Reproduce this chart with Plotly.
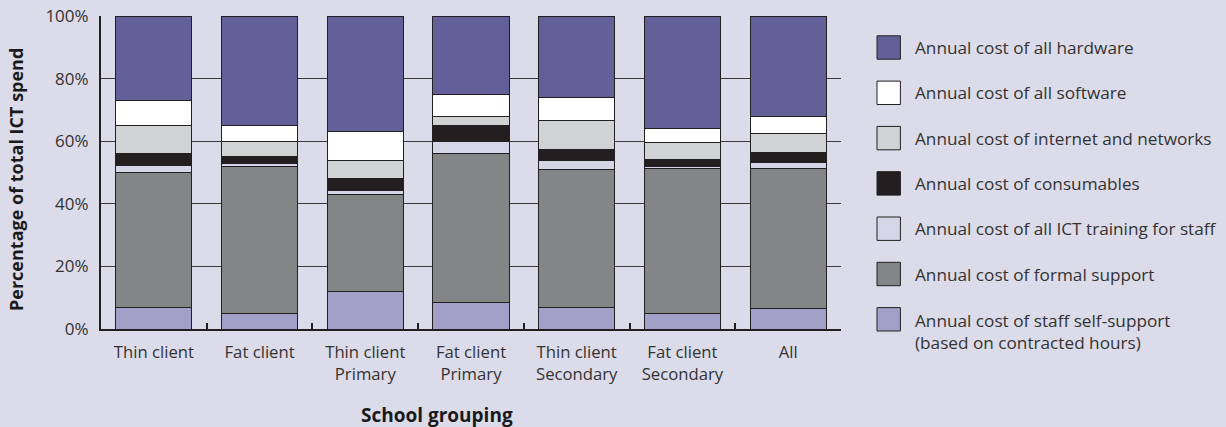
import plotly.graph_objects as go

categories = ["Thin client", "Fat client", "Thin client<br>Primary", "Fat client<br>Primary",
              "Thin client<br>Secondary", "Fat client<br>Secondary", "All"]

self_support = [6.9, 4.9, 11.9, 8.4, 6.9, 4.9, 6.4]
formal_support = [43.0, 47.0, 31.0, 47.6, 44.0, 46.3, 45.0]
ict_training = [2.3, 1.0, 1.3, 3.8, 2.9, 0.8, 1.9]
consumables = [3.8, 2.2, 3.8, 5.2, 3.7, 2.0, 3.2]
internet_networks = [8.9, 4.8, 5.9, 2.9, 9.0, 5.5, 5.9]
software = [8.1, 5.1, 9.1, 7.0, 7.4, 4.5, 5.5]
hardware = [27.0, 35.0, 37.0, 25.1, 26.1, 36.0, 32.1]

y_ticks = [0, 20, 40, 60, 80, 100]
y_tick_labels = ["0%", "20%", "40%", "60%", "80%", "100%"]

x_title = "School grouping"
y_title = "Percentage of total ICT spend"

series_names = [
    "Annual cost of staff self-support<br>(based on contracted hours)",
    "Annual cost of formal support",
    "Annual cost of all ICT training for staff",
    "Annual cost of consumables",
    "Annual cost of internet and networks",
    "Annual cost of all software",
    "Annual cost of all hardware",
]
series_values = [self_support, formal_support, ict_training, consumables,
                 internet_networks, software, hardware]
series_colors = ["#a29fc8", "#848586", "#d6d5e8", "#231f20", "#d1d2d4", "#ffffff", "#635f98"]

BG = "#dcdbe9"
TXT = "#333333"
LINE = "#231f20"
FONT = "Open Sans"
FS = 16.7

W, H = 1226, 427
L, R, T, B = 101, 385, 16, 98
PW, PH = W - L - R, H - T - B

fig = go.Figure()
for name, vals, col in zip(series_names, series_values, series_colors):
    fig.add_trace(go.Bar(x=categories, y=vals, name=name, marker_color=col,
                         marker_line_color=LINE, marker_line_width=1,
                         showlegend=False))

def px2x(px):
    return (px - L) / PW
def py2y(py):
    return (H - B - py) / PH

# manual legend (top entry = last stacked series)
sq = 23.4
sq_x0 = 877
first_cy = 47.5
step = 45.3
for i, (name, col) in enumerate(zip(series_names[::-1], series_colors[::-1])):
    cy = first_cy + i * step
    fig.add_shape(type="rect", xref="paper", yref="paper",
                  x0=px2x(sq_x0), x1=px2x(sq_x0 + sq),
                  y0=py2y(cy + sq / 2), y1=py2y(cy - sq / 2),
                  fillcolor=col, line=dict(color=LINE, width=1))
    nlines = name.count("<br>") + 1
    fig.add_annotation(xref="paper", yref="paper", x=px2x(913),
                       y=py2y(cy - sq / 2 - 1) if nlines > 1 else py2y(cy),
                       yanchor="top" if nlines > 1 else "middle",
                       xanchor="left", text=name, showarrow=False, align="left",
                       font=dict(family=FONT, size=17.2, color=TXT))

# axis titles
fig.add_annotation(xref="paper", yref="paper", x=px2x(437), y=py2y(415),
                   xanchor="center", yanchor="middle", showarrow=False,
                   text=f"<b>{x_title}</b>",
                   font=dict(family=FONT, size=19, color="#1a1a1a"))
fig.add_annotation(xref="paper", yref="paper", x=px2x(16), y=py2y(180),
                   xanchor="center", yanchor="middle", showarrow=False,
                   textangle=-90, text=f"<b>{y_title}</b>",
                   font=dict(family=FONT, size=18, color="#1a1a1a"))

fig.update_layout(
    width=W, height=H,
    margin=dict(l=L, r=R, t=T, b=B, pad=0),
    paper_bgcolor=BG, plot_bgcolor=BG,
    barmode="stack", bargap=0.28,
    font=dict(family=FONT, size=FS, color=TXT),
    xaxis=dict(
        automargin=False,
        showline=True, linecolor=LINE, linewidth=2,
        ticks="inside", tickson="boundaries", ticklen=6, tickwidth=2, tickcolor=LINE,
        showgrid=False, ticklabelstandoff=7,
        tickfont=dict(family=FONT, size=FS, color=TXT),
    ),
    yaxis=dict(
        automargin=False,
        range=[0, 100], tickmode="array", tickvals=y_ticks, ticktext=y_tick_labels,
        showline=True, linecolor=LINE, linewidth=2,
        showgrid=True, gridcolor="#3a3a3a", gridwidth=1.3,
        zeroline=False, ticks="", ticklabelstandoff=7,
        tickfont=dict(family=FONT, size=17, color=TXT),
    ),
)

fig.write_html("out.html", config={"displayModeBar": False},
               post_script="document.body.style.margin='0';")
